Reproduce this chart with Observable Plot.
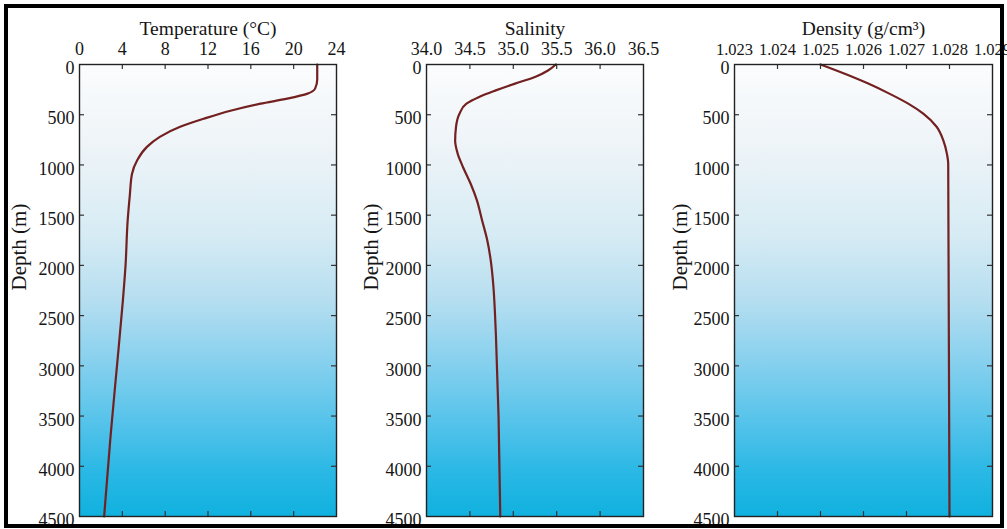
<!DOCTYPE html>
<html><head><meta charset="utf-8">
<script src="https://cdn.jsdelivr.net/npm/d3@7"></script>
<script src="https://cdn.jsdelivr.net/npm/@observablehq/plot@0.6"></script>
<style>
html,body{margin:0;padding:0;background:#fff;}
#wrap{position:relative;width:1007px;height:529px;overflow:hidden;background:#fff;}
#wrap svg{position:absolute;top:0;}
#border{position:absolute;left:4px;top:4px;width:1000px;height:524px;box-sizing:border-box;border:4px solid #000;pointer-events:none;z-index:5;}
</style></head><body>
<div id="wrap"><div id="border"></div></div>
<script>
// ---- data ----
const depthTicks = [0, 500, 1000, 1500, 2000, 2500, 3000, 3500, 4000, 4500];

const tempTicks = [0, 4, 8, 12, 16, 20, 24];
const tempDepth = [0, 150, 240, 290, 340, 390, 460, 540, 620, 720, 820, 950, 1090, 1300, 1550, 2000, 2350, 3000, 3700, 4500];
const tempValues = [22.2, 22.2, 22.0, 21.3, 19.4, 16.9, 14.1, 11.6, 9.4, 7.5, 6.3, 5.4, 4.9, 4.7, 4.5, 4.3, 4.05, 3.5, 2.9, 2.3];

const salTicks = [34.0, 34.5, 35.0, 35.5, 36.0, 36.5];
const salDepth = [0, 60, 125, 190, 260, 325, 390, 490, 620, 760, 890, 1020, 1190, 1350, 1550, 1750, 1950, 2200, 2500, 2700, 3500, 4500];
const salValues = [35.49, 35.40, 35.25, 35.02, 34.79, 34.60, 34.46, 34.38, 34.34, 34.33, 34.36, 34.42, 34.51, 34.58, 34.64, 34.70, 34.74, 34.77, 34.79, 34.80, 34.83, 34.85];

const denTicks = [1.023, 1.024, 1.025, 1.026, 1.027, 1.028, 1.029];
const denDepth = [0, 90, 190, 290, 390, 490, 620, 760, 890, 990, 4500];
const denValues = [1.0250, 1.02555, 1.02611, 1.0266, 1.02704, 1.02739, 1.0277, 1.02786, 1.02794, 1.02797, 1.0280];

const titles = ["Temperature (°C)", "Salinity", "Density (g/cm³)"];
const depthLabel = "Depth (m)";

// ---- drawing ----
const H = 529, MT = 64, MB = 13;
const FONT = "'Liberation Serif', 'DejaVu Serif', serif";

function gradientDefs(id) {
  return () => {
    const defs = d3.create("svg:defs");
    const g = defs.append("linearGradient").attr("id", id)
      .attr("x1", 0).attr("y1", 0).attr("x2", 0).attr("y2", 1);
    const stops = [[0, "#fbfcfd"], [0.18, "#eef4f8"], [0.38, "#d6ebf4"], [0.52, "#b6def0"], [0.66, "#86d0ee"], [0.8, "#52c2ea"], [0.9, "#2ab8e5"], [1, "#10b1df"]];
    for (const [o, c] of stops) g.append("stop").attr("offset", o).attr("stop-color", c);
    return defs.node();
  };
}

function panel(cfg) {
  const fw = cfg.width - cfg.ml - cfg.mr;
  const fh = H - MT - MB;
  const data = cfg.depth.map((d, i) => ({d, v: cfg.values[i]}));
  const inner = cfg.ticks.slice(1, -1);
  const innerDepth = depthTicks.slice(1, -1);
  const svg = Plot.plot({
    width: cfg.width, height: H,
    marginLeft: cfg.ml, marginRight: cfg.mr, marginTop: MT, marginBottom: MB,
    style: {fontFamily: FONT, fontSize: "18px", color: "#151515", background: "transparent", overflow: "visible"},
    x: {domain: [cfg.ticks[0], cfg.ticks[cfg.ticks.length - 1]]},
    y: {domain: [0, 4500], reverse: true},
    marks: [
      gradientDefs(cfg.id),
      Plot.frame({fill: `url(#${cfg.id})`}),
      Plot.line(data, {x: "v", y: "d", stroke: "#722020", strokeWidth: 2.2, curve: "monotone-y"}),
      Plot.tickX(inner, {x: d => d, insetBottom: fh - 5, stroke: "#333", strokeWidth: 1.2}),
      Plot.tickX(inner, {x: d => d, insetTop: fh - 5, stroke: "#333", strokeWidth: 1.2}),
      Plot.tickY(innerDepth, {y: d => d, insetRight: fw - 5, stroke: "#333", strokeWidth: 1.2}),
      Plot.tickY(innerDepth, {y: d => d, insetLeft: fw - 5, stroke: "#333", strokeWidth: 1.2}),
      Plot.frame({stroke: "#222", strokeWidth: 1.4}),
      Plot.axisX({anchor: "top", ticks: cfg.ticks, tickFormat: cfg.fmt, tickSize: 0, tickPadding: 10, label: null, fontSize: cfg.xFont}),
      Plot.axisY({anchor: "left", ticks: depthTicks, tickFormat: d => String(d), tickSize: 0, tickPadding: 5, dy: 4, label: null, fontSize: 18}),
      Plot.text([cfg.title], {frameAnchor: "top", dy: -43, fontSize: 19.5}),
      Plot.text([depthLabel], {frameAnchor: "left", rotate: -90, dx: cfg.labelDx, fontSize: 21})
    ]
  });
  svg.style.left = cfg.left + "px";
  document.getElementById("wrap").appendChild(svg);
}

panel({id: "g0", left: 0, width: 345, ml: 79, mr: 9, ticks: tempTicks, fmt: d => String(d), depth: tempDepth, values: tempValues, title: titles[0], labelDx: -60, xFont: 18});
panel({id: "g1", left: 345, width: 320, ml: 81, mr: 22, ticks: salTicks, fmt: d3.format(".1f"), depth: salDepth, values: salValues, title: titles[1], labelDx: -55, xFont: 18});
panel({id: "g2", left: 665, width: 342, ml: 69, mr: 15, ticks: denTicks, fmt: d3.format(".3f"), depth: denDepth, values: denValues, title: titles[2], labelDx: -54, xFont: 16.5});
</script>
</body></html>
